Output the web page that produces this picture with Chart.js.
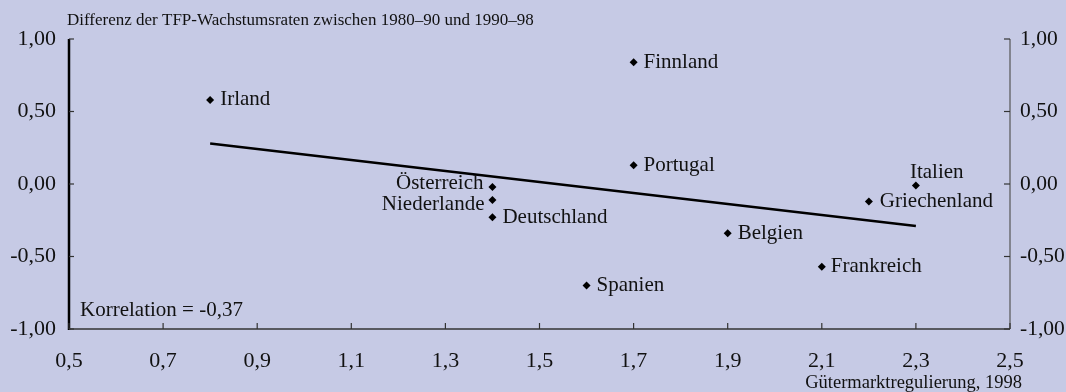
<!DOCTYPE html>
<html>
<head>
<meta charset="utf-8">
<script src="https://cdn.jsdelivr.net/npm/chart.js@4.4.1/dist/chart.umd.min.js"></script>
<style>
  html, body { margin: 0; padding: 0; background: #c6cae5; }
  #wrap { width: 1066px; height: 392px; }
</style>
</head>
<body>
<div id="wrap"><canvas id="tfp"></canvas></div>
<script>
// Länder, Gütermarktregulierung 1998 (x) und Differenz der TFP-Wachstumsraten (y)
const countries = ['Irland', 'Finnland', 'Portugal', 'Italien', 'Griechenland', 'Österreich',
  'Niederlande', 'Deutschland', 'Belgien', 'Frankreich', 'Spanien'];
const regulation = [0.8, 1.7, 1.7, 2.3, 2.2, 1.4, 1.4, 1.4, 1.9, 2.1, 1.6];
const tfpDiff = [0.58, 0.84, 0.13, -0.01, -0.12, -0.02, -0.11, -0.23, -0.34, -0.57, -0.70];

// Regressionsgerade
const trendX = [0.8, 2.3];
const trendY = [0.28, -0.29];

const xTicks = [0.5, 0.7, 0.9, 1.1, 1.3, 1.5, 1.7, 1.9, 2.1, 2.3, 2.5];
const yTicks = [-1, -0.5, 0, 0.5, 1];

const yTitle = 'Differenz der TFP-Wachstumsraten zwischen 1980–90 und 1990–98';
const xTitle = 'Gütermarktregulierung, 1998';
const corrText = 'Korrelation = -0,37';

const serif = '"Liberation Serif", "Times New Roman", serif';
const fmt = (v, d) => v.toFixed(d).replace('.', ',');

// label placement relative to the point: [align, dx, dy]
const labelPos = {
  'Österreich': ['right', -9, -3],
  'Niederlande': ['right', -8, 5],
  'Italien': ['left', -6, -13],
  'Griechenland': ['left', 11, 0],
  'Frankreich': ['left', 9, 0]
};

const decorations = {
  id: 'decorations',
  afterDraw(chart) {
    const { ctx, chartArea: a, scales } = chart;
    const x = scales.x, y = scales.y;
    ctx.save();

    // axes
    ctx.strokeStyle = '#000';
    ctx.lineWidth = 2.5;
    ctx.beginPath(); ctx.moveTo(a.left, a.top); ctx.lineTo(a.left, a.bottom + 1); ctx.stroke();
    ctx.strokeStyle = '#333';
    ctx.lineWidth = 1.5;
    ctx.beginPath(); ctx.moveTo(a.left, a.bottom); ctx.lineTo(a.right, a.bottom); ctx.stroke();
    ctx.strokeStyle = '#555';
    ctx.lineWidth = 1.2;
    ctx.beginPath(); ctx.moveTo(a.right, a.top); ctx.lineTo(a.right, a.bottom); ctx.stroke();

    // inward tick marks
    ctx.lineWidth = 1.2;
    ctx.strokeStyle = '#333';
    yTicks.forEach(v => {
      const py = y.getPixelForValue(v);
      ctx.beginPath(); ctx.moveTo(a.left, py); ctx.lineTo(a.left + 5, py); ctx.stroke();
      ctx.beginPath(); ctx.moveTo(a.right, py); ctx.lineTo(a.right - 6, py); ctx.stroke();
    });
    xTicks.forEach(v => {
      const px = x.getPixelForValue(v);
      ctx.beginPath(); ctx.moveTo(px, a.bottom); ctx.lineTo(px, a.bottom - 6); ctx.stroke();
    });

    // country names
    ctx.fillStyle = '#111';
    ctx.font = '21px ' + serif;
    ctx.textBaseline = 'middle';
    countries.forEach((name, i) => {
      const px = x.getPixelForValue(regulation[i]);
      const py = y.getPixelForValue(tfpDiff[i]);
      const [align, dx, dy] = labelPos[name] || ['left', 10, 0];
      ctx.textAlign = align;
      ctx.fillText(name, px + dx, py + dy);
    });

    // titles and note
    ctx.font = '17px ' + serif;
    ctx.textAlign = 'left';
    ctx.fillText(yTitle, a.left - 2, 21);
    ctx.font = '21px ' + serif;
    ctx.fillText(corrText, a.left + 11, a.bottom - 19);
    ctx.font = '18.5px ' + serif;
    ctx.textAlign = 'right';
    ctx.fillText(xTitle, a.right + 12, 383);
    ctx.restore();
  }
};

new Chart(document.getElementById('tfp'), {
  type: 'scatter',
  data: {
    datasets: [
      {
        data: regulation.map((v, i) => ({ x: v, y: tfpDiff[i] })),
        pointStyle: 'rectRot',
        pointRadius: 4,
        backgroundColor: '#000',
        borderColor: '#000',
        borderWidth: 0
      },
      {
        type: 'line',
        data: trendX.map((v, i) => ({ x: v, y: trendY[i] })),
        borderColor: '#000',
        borderWidth: 2.5,
        pointRadius: 0,
        fill: false
      }
    ]
  },
  plugins: [decorations],
  options: {
    responsive: true,
    maintainAspectRatio: false,
    animation: false,
    layout: { padding: { top: 39, left: 0, right: 0, bottom: 0 } },
    plugins: { legend: { display: false }, tooltip: { enabled: false } },
    scales: {
      x: {
        type: 'linear', min: 0.5, max: 2.5,
        afterBuildTicks: s => { s.ticks = xTicks.map(v => ({ value: v })); },
        afterFit: s => { s.height = 63; },
        grid: { display: false }, border: { display: false },
        ticks: { color: '#111', padding: 11, font: { family: serif, size: 22 },
          maxRotation: 0, callback: v => fmt(v, 1) }
      },
      y: {
        type: 'linear', position: 'left', min: -1, max: 1,
        afterBuildTicks: s => { s.ticks = yTicks.map(v => ({ value: v })); },
        afterFit: s => { s.width = 69; },
        grid: { display: false }, border: { display: false },
        ticks: { color: '#111', padding: 5, font: { family: serif, size: 22 },
          callback: v => fmt(v, 2) }
      },
      y2: {
        type: 'linear', position: 'right', min: -1, max: 1,
        afterBuildTicks: s => { s.ticks = yTicks.map(v => ({ value: v })); },
        afterFit: s => { s.width = 56; },
        grid: { display: false }, border: { display: false },
        ticks: { color: '#111', padding: 2, font: { family: serif, size: 21.5 },
          callback: v => fmt(v, 2) }
      }
    }
  }
});
</script>
</body>
</html>
